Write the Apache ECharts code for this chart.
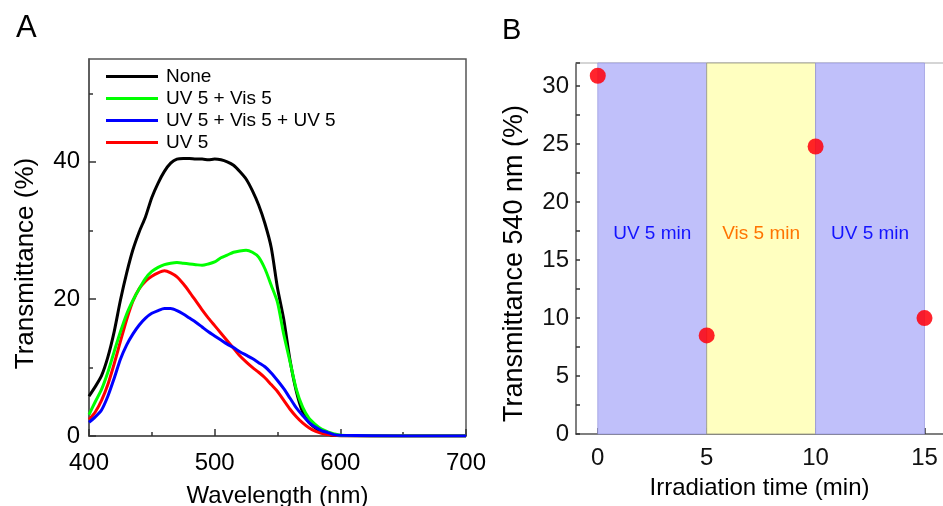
<!DOCTYPE html>
<html>
<head>
<meta charset="utf-8">
<script src="https://cdn.jsdelivr.net/npm/echarts@6/dist/echarts.min.js"></script>
<style>
html,body{margin:0;padding:0;background:#fff;}
#chart{width:943px;height:506px;}
</style>
</head>
<body>
<div id="chart"></div>
<script>
// ---------- Panel A data ----------
const wavelengths = [400,405,410,415,420,425,430,435,440,445,450,455,460,465,470,475,480,485,490,495,500,505,510,515,520,525,530,535,540,545,550,555,560,565,570,575,580,585,590,595,600,650,700];
const tNone = [5.8,7.2,8.8,11.5,15.2,19.8,23.8,27.2,29.8,32.0,34.8,36.9,38.6,39.8,40.4,40.5,40.5,40.4,40.4,40.3,40.4,40.3,40.0,39.5,38.6,37.5,35.8,33.7,31.0,27.5,21.6,17.0,11.0,6.5,3.5,2.0,1.2,0.6,0.3,0.1,0.05,0,0];
const tUvVis = [3.1,5.0,6.8,9.3,12.3,15.2,17.8,19.8,21.5,23.0,24.0,24.6,25.0,25.2,25.3,25.2,25.1,25.0,24.9,25.1,25.4,26.0,26.4,26.8,27.0,27.1,26.8,26.1,24.4,22.0,19.5,14.8,10.8,6.8,4.2,2.6,1.7,1.0,0.6,0.3,0.1,0,0];
const tUvVisUv = [2.0,2.8,3.8,5.8,8.4,11.2,13.3,14.9,16.2,17.2,17.9,18.3,18.6,18.6,18.3,17.8,17.2,16.6,15.9,15.2,14.6,14.0,13.4,12.9,12.3,11.8,11.3,10.7,10.1,9.2,8.1,6.9,5.5,4.1,3.0,2.0,1.3,0.8,0.5,0.2,0.1,0,0];
const tUv = [2.4,3.5,5.2,7.5,10.5,13.8,17.0,19.7,21.5,22.6,23.3,23.8,24.1,23.8,23.2,22.2,21.0,19.7,18.4,17.2,16.1,15.0,13.9,12.8,11.7,10.8,10.0,9.3,8.5,7.5,6.5,5.2,3.9,2.8,1.9,1.2,0.7,0.4,0.2,0.1,0.05,0,0];
const seriesNames = ['None','UV 5 + Vis 5','UV 5 + Vis 5 + UV 5','UV 5'];
const xTicksA = [400,500,600,700];
const yLabelsA = [0,20,40];
const yMinorA = [10,30,50];

// ---------- Panel B data ----------
const times = [0,5,10,15];
const trans540 = [30.9,8.5,24.8,10.0];
const bandStart = [0,5,10];
const bandEnd = [5,10,15];
const bandLabels = ['UV 5 min','Vis 5 min','UV 5 min'];
const xLabelsB = [0,5,10,15];
const xMinorB = [2.5,7.5,12.5];

const FONT = 'Liberation Sans, Arial, sans-serif';
const zip = (xs, ys) => xs.map((x,i)=>[x, ys[i]]);

const bandFill = ['#c0c0fa','#ffffc0','#c0c0fa'];
const bandBorder = ['rgba(150,150,220,0.7)','rgba(150,150,130,0.8)','rgba(150,150,220,0.7)'];
const bandText = ['#1414ff','#ff7400','#1414ff'];

const axisGray = '#555';
const chart = echarts.init(document.getElementById('chart'), null, {renderer:'canvas'});

function lineSeries(name, data, color, z){
  return {
    type:'line', name, xAxisIndex:0, yAxisIndex:0,
    data: zip(wavelengths, data), showSymbol:false, symbol:'none',
    smooth:0.25,
    lineStyle:{color, width:3}, itemStyle:{color}, z
  };
}

const option = {
  animation:false,
  backgroundColor:'#fff',
  textStyle:{fontFamily:FONT},
  title:[
    {text:'A', left:11, top:8, textStyle:{fontSize:31, fontWeight:'normal', color:'#000', fontFamily:FONT}},
    {text:'B', left:497, top:11, textStyle:{fontSize:29, fontWeight:'normal', color:'#000', fontFamily:FONT}}
  ],
  legend:{
    data:seriesNames, orient:'vertical', left:106, top:67, padding:0,
    icon:'rect', itemWidth:52, itemHeight:3, itemGap:3,
    textStyle:{fontSize:19, color:'#000', fontFamily:FONT, padding:[0,0,0,3]}
  },
  grid:[
    {left:89, top:59, width:377, height:377, show:true, borderColor:axisGray, borderWidth:1.5, backgroundColor:'transparent', outerBoundsMode:'none', containLabel:false},
    {left:576, top:63, width:367, height:371, outerBoundsMode:'none', containLabel:false}
  ],
  xAxis:[
    {gridIndex:0, type:'value', position:'bottom', min:400, max:700, interval:100,
     name:'Wavelength (nm)', nameLocation:'middle', nameGap:48,
     nameTextStyle:{fontSize:24, color:'#000', fontFamily:FONT},
     axisLine:{onZero:false, lineStyle:{color:axisGray, width:1.5}},
     axisTick:{inside:true, length:7, lineStyle:{color:'#333', width:1.5}},
     minorTick:{show:true, splitNumber:2, length:4, lineStyle:{color:'#333', width:1.5}},
     splitLine:{show:false},
     axisLabel:{fontSize:24, color:'#000', margin:15, fontFamily:FONT, customValues:xTicksA}},
    {gridIndex:1, type:'value', position:'bottom', min:-1, max:15.85,
     name:'Irradiation time (min)', nameLocation:'middle', nameGap:42,
     nameTextStyle:{fontSize:24, color:'#000', fontFamily:FONT},
     axisLine:{onZero:false, lineStyle:{color:axisGray, width:1.5}},
     axisTick:{inside:true, length:6, customValues:xLabelsB, lineStyle:{color:'#333', width:1.5}},
     splitLine:{show:false},
     axisLabel:{fontSize:24, color:'#111', margin:12, fontFamily:FONT, customValues:xLabelsB}},
    {gridIndex:1, type:'value', position:'bottom', min:-1, max:15.85,
     axisLine:{show:false, onZero:false},
     axisTick:{inside:true, length:3, customValues:xMinorB, lineStyle:{color:'#333', width:1.5}},
     axisLabel:{show:false}, splitLine:{show:false}},
    {gridIndex:1, type:'value', position:'top', min:-1, max:15.85,
     axisLine:{show:true, onZero:false, lineStyle:{color:'#c8c8c8', width:1.5}},
     axisTick:{show:false}, axisLabel:{show:false}, splitLine:{show:false}}
  ],
  yAxis:[
    {gridIndex:0, type:'value', position:'left', min:0, max:55,
     name:'Transmittance (%)', nameLocation:'middle', nameGap:50,
     nameTextStyle:{fontSize:26, color:'#000', fontFamily:FONT, padding:[0,32,0,0]},
     axisLine:{onZero:false, lineStyle:{color:axisGray, width:1.5}},
     axisTick:{inside:true, length:7, customValues:yLabelsA, lineStyle:{color:'#333', width:1.5}},
     splitLine:{show:false},
     axisLabel:{fontSize:24, color:'#000', margin:9, fontFamily:FONT, customValues:yLabelsA}},
    {gridIndex:0, type:'value', position:'left', min:0, max:55,
     axisLine:{show:false, onZero:false},
     axisTick:{inside:true, length:4, customValues:yMinorA, lineStyle:{color:'#333', width:1.5}},
     axisLabel:{show:false}, splitLine:{show:false}},
    {gridIndex:1, type:'value', position:'left', min:0, max:32, interval:2.5,
     name:'Transmittance 540 nm (%)', nameLocation:'middle', nameGap:48,
     nameTextStyle:{fontSize:27, color:'#000', fontFamily:FONT, padding:[0,30,0,0]},
     axisLine:{onZero:false, lineStyle:{color:axisGray, width:1.5}},
     axisTick:{inside:true, length:4, lineStyle:{color:'#333', width:1.5}},
     splitLine:{show:false},
     axisLabel:{fontSize:24, color:'#111', margin:7, fontFamily:FONT, interval:0, showMaxLabel:true,
       formatter:(v)=> (Math.abs(v/5 - Math.round(v/5))<1e-6 && v<=30) ? String(v) : ''}}
  ],
  series:[
    lineSeries(seriesNames[0], tNone, '#000000', 2),
    lineSeries(seriesNames[3], tUv, '#ff0000', 3),
    lineSeries(seriesNames[1], tUvVis, '#00ff00', 4),
    lineSeries(seriesNames[2], tUvVisUv, '#0000ff', 5),
    {
      type:'scatter', name:'540 nm', xAxisIndex:1, yAxisIndex:2,
      data: zip(times, trans540), symbolSize:16,
      itemStyle:{color:'rgb(255,0,10)', opacity:0.86}, z:5,
      markArea:{
        silent:true,
        data: bandStart.map((s,i)=>[
          {xAxis:s, itemStyle:{color:bandFill[i], borderColor:bandBorder[i], borderWidth:1}},
          {xAxis:bandEnd[i]}
        ])
      }
    },
    {
      type:'scatter', name:'bands', xAxisIndex:1, yAxisIndex:2, symbolSize:0, silent:true, z:10,
      itemStyle:{opacity:1},
      data: bandLabels.map((t,i)=>({name:t, value:[(bandStart[i]+bandEnd[i])/2, 17.3],
        label:{color:bandText[i]}})),
      label:{show:true, position:'inside', formatter:(p)=>p.name, fontSize:19, fontFamily:FONT,
        textBorderWidth:0, textBorderColor:'transparent', opacity:1}
    }
  ]
};
chart.setOption(option);
</script>
</body>
</html>
